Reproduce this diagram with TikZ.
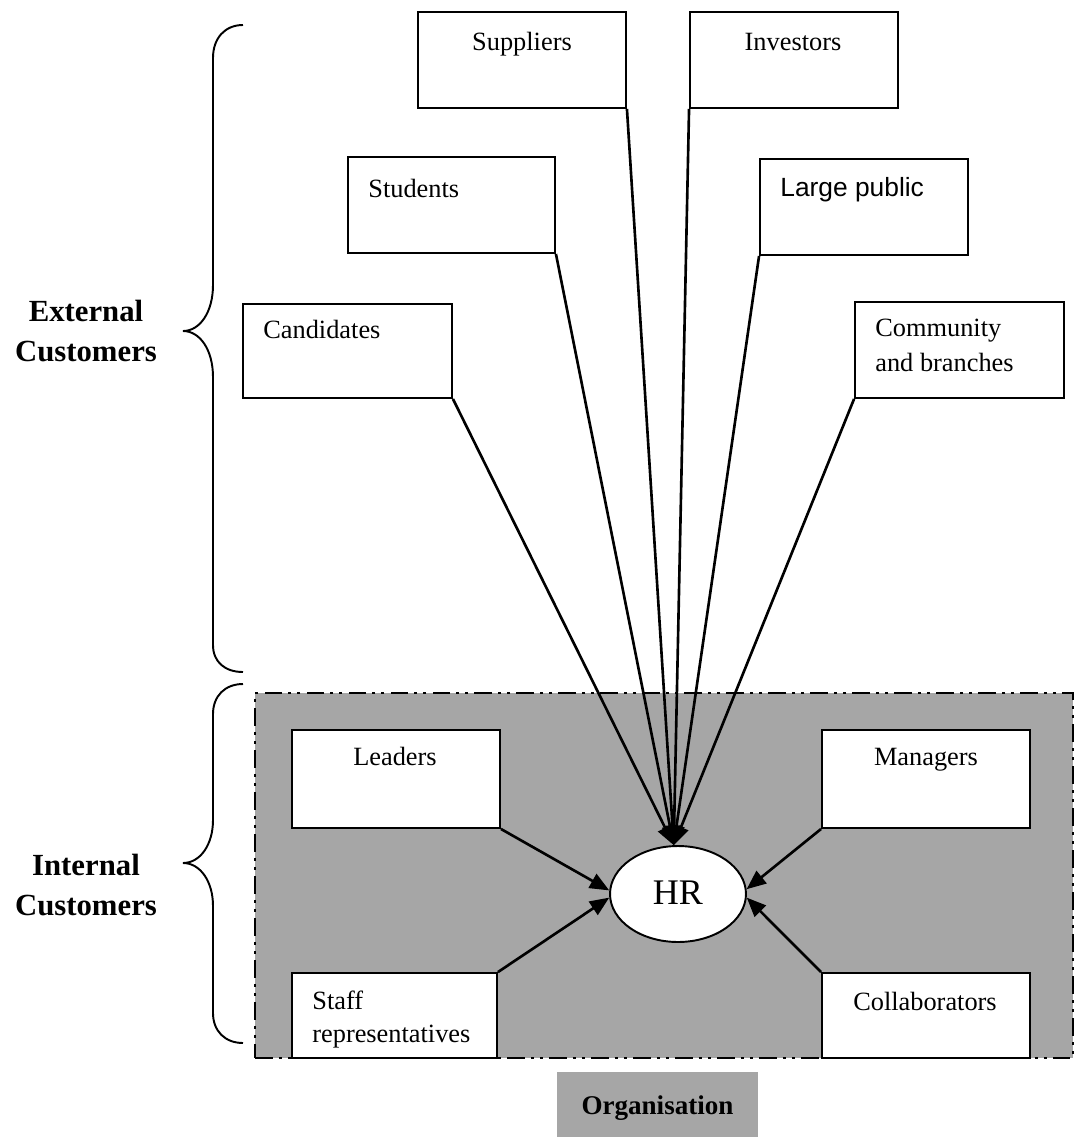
\documentclass[tikz,border=0pt]{standalone}
\usepackage{fontspec}
\setmainfont{Liberation Serif}
\newfontfamily\arialf{Liberation Sans}
\usetikzlibrary{arrows.meta,shapes.geometric}
\definecolor{orggray}{HTML}{A6A6A6}
\begin{document}
\begin{tikzpicture}[x=0.02cm,y=-0.02cm,
  box/.style={draw,line width=1.1pt,fill=white,inner sep=0pt,minimum width=4.16cm,minimum height=1.92cm},
  txt/.style={inner sep=0pt,anchor=base,font=\fontsize{15}{19}\selectfont},
  ltxt/.style={txt,anchor=base west},
  conn/.style={line width=1.5pt,-{Triangle[length=11pt,width=9pt]}},
  bracestyle/.style={line width=1.1pt},
  side/.style={inner sep=0pt,anchor=base,font=\fontsize{17.5}{20}\selectfont\bfseries}]
\useasboundingbox (0,0) rectangle (1076,1137);

% organisation area
\node[draw,fill=orggray,line width=1.3pt,
  dash pattern=on 10pt off 3.5pt on 1.7pt off 3.5pt on 1.7pt off 3.5pt,
  minimum width=16.36cm,minimum height=7.3cm,inner sep=0pt] (area) at (664,875.5) {};

% external boxes
\node[box] (sup) at (522,60) {};
\node[box] (inv) at (794,60) {};
\node[box,minimum width=4.14cm] (stud) at (451.5,205) {};
\node[box] (lp) at (864,207) {};
\node[box,minimum width=4.18cm,minimum height=1.88cm] (cand) at (347.5,351) {};
\node[box,minimum width=4.18cm] (comm) at (959.5,350) {};

\node[txt] (tsup) at (522,50) {Suppliers};
\node[txt] (tinv) at (793,50) {Investors};
\node[ltxt] (tstud) at (368,197) {Students};
\node[ltxt,font=\fontsize{15}{19}\selectfont\arialf] (tlp) at (780,196) {Large public};
\node[ltxt] (tcand) at (263,338) {Candidates};
\node[ltxt] (tcomm1) at (875,336) {Community};
\node[ltxt] (tcomm2) at (875,371) {and branches};

% internal boxes
\node[box,minimum height=1.96cm] (lead) at (396,779) {};
\node[box,minimum height=1.96cm] (man) at (926,779) {};
\node[box,minimum width=4.1cm,minimum height=1.7cm] (staff) at (394.5,1015.5) {};
\node[box,minimum height=1.7cm] (coll) at (926,1015.5) {};

\node[txt] (tlead) at (395,765) {Leaders};
\node[txt] (tman) at (926,765) {Managers};
\node[ltxt] (tstaff1) at (312,1009) {Staff};
\node[ltxt] (tstaff2) at (312,1042) {representatives};
\node[txt] (tcoll) at (925,1010) {Collaborators};

% HR
\node[draw,ellipse,line width=1.1pt,fill=white,minimum width=2.72cm,minimum height=1.92cm,inner sep=0pt] (hr) at (678,894) {};
\node[txt,font=\fontsize{20.5}{24}\selectfont] (thr) at (678,904) {HR};

% organisation label
\node[fill=orggray,minimum width=4.02cm,minimum height=1.3cm,inner sep=0pt] (orgbox) at (657.5,1104.5) {};
\node[side,font=\fontsize{15.4}{18}\selectfont\bfseries] (torg) at (657.5,1114) {Organisation};

% connectors
\draw[conn] (cand.south east) -- (hr.95);
\draw[conn] (stud.south east) -- (hr.95);
\draw[conn] (sup.south east) -- (hr.95);
\draw[conn] (inv.south west) -- (hr.95);
\draw[conn] (lp.south west) -- (hr.95);
\draw[conn] (comm.south west) -- (hr.95);
\draw[conn] (lead.south east) -- (hr.177);
\draw[conn] (staff.north east) -- (hr.183);
\draw[conn] (man.south west) -- (hr.4);
\draw[conn] (coll.north west) -- (hr.-3);

% braces
\draw[bracestyle] (243,25) .. controls (225,25) and (213,38) .. (213,58) -- (213,285)
  .. controls (213,312) and (200,331) .. (183,331)
  .. controls (200,331) and (213,350) .. (213,377) -- (213,645)
  .. controls (213,662) and (225,672) .. (243,672);
\draw[bracestyle] (243,684) .. controls (225,684) and (213,696) .. (213,714) -- (213,820)
  .. controls (213,845) and (200,863) .. (183,863)
  .. controls (200,863) and (213,881) .. (213,906) -- (213,1013)
  .. controls (213,1031) and (225,1043) .. (243,1043);

% side labels
\node[side] (ext1) at (86,321) {External};
\node[side] (ext2) at (86,361) {Customers};
\node[side] (int1) at (86,875) {Internal};
\node[side] (int2) at (86,915) {Customers};
\end{tikzpicture}
\end{document}
